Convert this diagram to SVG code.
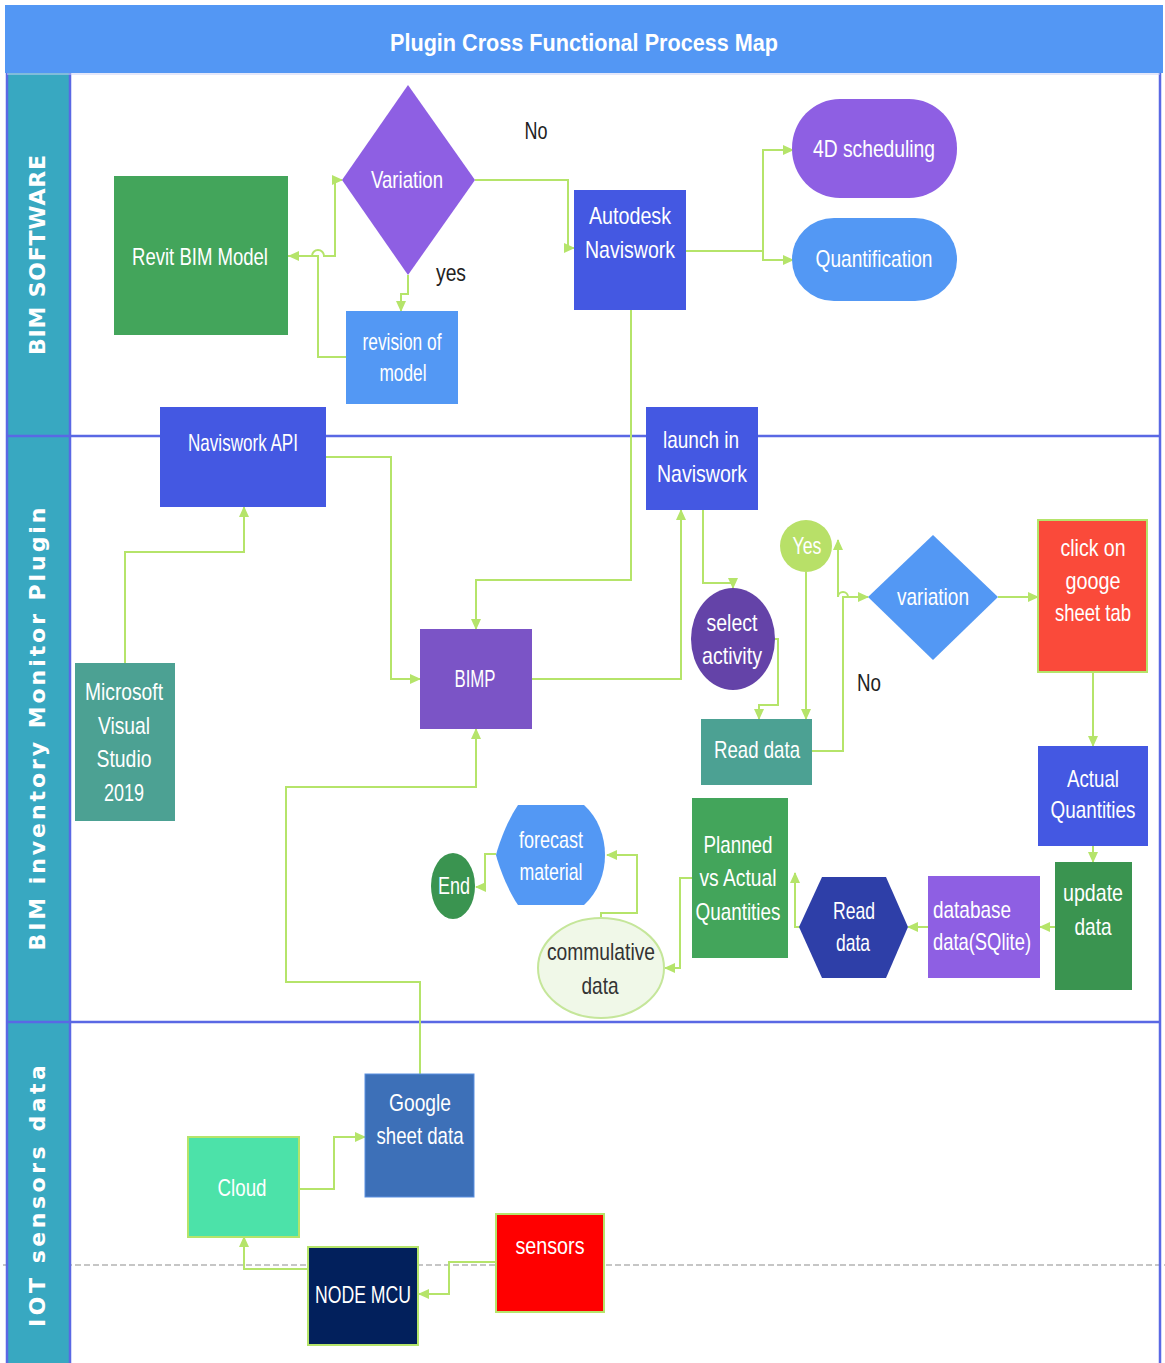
<svg xmlns="http://www.w3.org/2000/svg" width="1165" height="1363" viewBox="0 0 1165 1363">
<defs>
<marker id="ah" markerUnits="userSpaceOnUse" markerWidth="11" markerHeight="10" refX="10" refY="5" orient="auto">
<path d="M0,0 L11,5 L0,10 Z" fill="#b5e46a"/>
</marker>
<style>
.t{font-family:"Liberation Sans",Arial,sans-serif;font-size:24px;fill:#ffffff;text-anchor:middle}
.d{fill:#222222}
.lane{font-family:"DejaVu Sans","Liberation Sans",sans-serif;font-weight:bold;font-size:22px;fill:#ffffff;text-anchor:middle}
.c{fill:none;stroke:#b5e46a;stroke-width:2}
.a{marker-end:url(#ah)}
.lb{stroke:#5a68e4;stroke-width:2.5;fill:none}
</style>
</defs>
<rect width="1165" height="1363" fill="#ffffff"/>
<g id="title">
<rect x="5" y="5" width="1158" height="68" fill="#5397f4"/>
<text class="t" x="584" y="51" font-weight="bold" font-size="26" textLength="388" lengthAdjust="spacingAndGlyphs">Plugin Cross Functional Process Map</text>
</g>
<g id="lanes">
<line x1="3" y1="1265" x2="1165" y2="1265" stroke="#b4b4b4" stroke-width="1.5" stroke-dasharray="6,3"/>
<rect x="7" y="73" width="63" height="1292" fill="#38a8c1"/>
<line class="lb" x1="7" y1="73" x2="7" y2="1363"/>
<line class="lb" x1="70" y1="73" x2="70" y2="1363"/>
<line class="lb" x1="1160" y1="73" x2="1160" y2="1363"/>
<line class="lb" x1="7" y1="436" x2="1160" y2="436"/>
<line class="lb" x1="7" y1="1022" x2="1160" y2="1022"/>
<line x1="7" y1="74" x2="1160" y2="74" stroke="#c9d0f5" stroke-width="1"/>
<text class="lane" transform="translate(45,255) rotate(-90)" textLength="200" lengthAdjust="spacing">BIM SOFTWARE</text>
<text class="lane" transform="translate(45,729) rotate(-90)" textLength="443" lengthAdjust="spacing">BIM inventory Monitor Plugin</text>
<text class="lane" transform="translate(45,1196) rotate(-90)" textLength="262" lengthAdjust="spacing">IOT sensors data</text>
</g>
<g id="connectors">
<path class="c a" d="M288,256 H312 A6,6 0 0 1 324,256 H335 V180 H342"/>
<path class="c a" d="M346,357 H318 V256 H289"/>
<path class="c a" d="M408,275 V294 H401 V311"/>
<path class="c a" d="M475,180 H568 V248 H574"/>
<path class="c a" d="M686,251 H763 V150 H793"/>
<path class="c a" d="M763,251 V260 H793"/>
<path class="c a" d="M631,310 V580 H476 V629"/>
<path class="c a" d="M326,457 H391 V679 H420"/>
<path class="c a" d="M125,663 V552 H244 V507"/>
<path class="c a" d="M420,1074 V982 H286 V787 H476 V729"/>
<path class="c a" d="M532,679 H681 V510"/>
<path class="c a" d="M703,510 V583 H733 V588"/>
<path class="c a" d="M775,639 H778 V705 H759 V719"/>
<path class="c a" d="M806,572 V719"/>
<path class="c a" d="M812,751 H843 V597 H868"/>
<path class="c a" d="M868,597 H848 A5,5 0 0 0 838,597 V540"/>
<path class="c a" d="M998,597 H1038"/>
<path class="c a" d="M1093,672 V746"/>
<path class="c a" d="M1093,846 V862"/>
<path class="c a" d="M1055,927 H1040"/>
<path class="c a" d="M928,927 H908"/>
<path class="c a" d="M800,927 H795 V873"/>
<path class="c a" d="M692,878 H680 V968 H665"/>
<path class="c a" d="M601,918 V913 H637 V855 H607"/>
<path class="c a" d="M496,854 H485 V887 H476"/>
<path class="c a" d="M299,1189 H334 V1137 H365"/>
<path class="c a" d="M308,1269 H244 V1237"/>
<path class="c a" d="M496,1262 H449 V1294 H419"/>
</g>
<g id="revit">
<rect x="114" y="176" width="174" height="159" fill="#43a55b"/>
<text class="t" x="200" y="265" textLength="136" lengthAdjust="spacingAndGlyphs">Revit BIM Model</text>
</g>
<g id="variation1">
<polygon points="408,85 475,180 408,275 342,180" fill="#8e5fe3"/>
<text class="t" x="407" y="188" textLength="72" lengthAdjust="spacingAndGlyphs">Variation</text>
</g>
<g id="label-no1"><text class="t d" x="536" y="139" textLength="23" lengthAdjust="spacingAndGlyphs">No</text></g>
<g id="label-yes1"><text class="t d" x="451" y="281" textLength="30" lengthAdjust="spacingAndGlyphs">yes</text></g>
<g id="revision">
<rect x="346" y="311" width="112" height="93" fill="#5398f4"/>
<text class="t" x="402" y="350" textLength="79" lengthAdjust="spacingAndGlyphs">revision of</text>
<text class="t" x="403" y="381" textLength="47" lengthAdjust="spacingAndGlyphs">model</text>
</g>
<g id="autodesk">
<rect x="574" y="190" width="112" height="120" fill="#4458e2"/>
<text class="t" x="630" y="224" textLength="82" lengthAdjust="spacingAndGlyphs">Autodesk</text>
<text class="t" x="630" y="258" textLength="90" lengthAdjust="spacingAndGlyphs">Naviswork</text>
</g>
<g id="scheduling">
<rect x="792" y="99" width="165" height="99" rx="48" ry="49" fill="#8e5fe3"/>
<text class="t" x="874" y="157" textLength="122" lengthAdjust="spacingAndGlyphs">4D scheduling</text>
</g>
<g id="quantification">
<rect x="792" y="218" width="165" height="83" rx="42" ry="41" fill="#5398f4"/>
<text class="t" x="874" y="267" textLength="117" lengthAdjust="spacingAndGlyphs">Quantification</text>
</g>
<g id="navisapi">
<rect x="160" y="407" width="166" height="100" fill="#4458e2"/>
<text class="t" x="243" y="451" textLength="110" lengthAdjust="spacingAndGlyphs">Naviswork API</text>
</g>
<g id="launch">
<rect x="646" y="407" width="112" height="103" fill="#4458e2"/>
<text class="t" x="701" y="448" textLength="76" lengthAdjust="spacingAndGlyphs">launch in</text>
<text class="t" x="702" y="482" textLength="90" lengthAdjust="spacingAndGlyphs">Naviswork</text>
</g>
<g id="msvs">
<rect x="75" y="663" width="100" height="158" fill="#4ca193"/>
<text class="t" x="124" y="700" textLength="78" lengthAdjust="spacingAndGlyphs">Microsoft</text>
<text class="t" x="124" y="734" textLength="52" lengthAdjust="spacingAndGlyphs">Visual</text>
<text class="t" x="124" y="767" textLength="55" lengthAdjust="spacingAndGlyphs">Studio</text>
<text class="t" x="124" y="801" textLength="40" lengthAdjust="spacingAndGlyphs">2019</text>
</g>
<g id="bimp">
<rect x="420" y="629" width="112" height="100" fill="#7b54c6"/>
<text class="t" x="475" y="687" textLength="41" lengthAdjust="spacingAndGlyphs">BIMP</text>
</g>
<g id="select">
<ellipse cx="733" cy="639" rx="42" ry="51" fill="#6443a8"/>
<text class="t" x="732" y="631" textLength="51" lengthAdjust="spacingAndGlyphs">select</text>
<text class="t" x="732" y="664" textLength="60" lengthAdjust="spacingAndGlyphs">activity</text>
</g>
<g id="yes2">
<circle cx="806" cy="546" r="26" fill="#b8e068"/>
<text class="t" x="807" y="554" textLength="29" lengthAdjust="spacingAndGlyphs">Yes</text>
</g>
<g id="variation2">
<polygon points="933,535 998,597 933,660 868,597" fill="#5398f4"/>
<text class="t" x="933" y="605" textLength="72" lengthAdjust="spacingAndGlyphs">variation</text>
</g>
<g id="click">
<rect x="1038" y="520" width="109" height="152" fill="#fa4a3a" stroke="#b5e46a" stroke-width="2"/>
<text class="t" x="1093" y="556" textLength="65" lengthAdjust="spacingAndGlyphs">click on</text>
<text class="t" x="1093" y="589" textLength="55" lengthAdjust="spacingAndGlyphs">googe</text>
<text class="t" x="1093" y="621" textLength="76" lengthAdjust="spacingAndGlyphs">sheet tab</text>
</g>
<g id="label-no2"><text class="t d" x="869" y="691" textLength="24" lengthAdjust="spacingAndGlyphs">No</text></g>
<g id="readdata1">
<rect x="701" y="719" width="111" height="66" fill="#4ca193"/>
<text class="t" x="757" y="758" textLength="86" lengthAdjust="spacingAndGlyphs">Read data</text>
</g>
<g id="actual">
<rect x="1038" y="746" width="110" height="100" fill="#4458e2"/>
<text class="t" x="1093" y="787" textLength="52" lengthAdjust="spacingAndGlyphs">Actual</text>
<text class="t" x="1093" y="818" textLength="85" lengthAdjust="spacingAndGlyphs">Quantities</text>
</g>
<g id="update">
<rect x="1055" y="862" width="77" height="128" fill="#3a9450"/>
<text class="t" x="1093" y="901" textLength="60" lengthAdjust="spacingAndGlyphs">update</text>
<text class="t" x="1093" y="935" textLength="37" lengthAdjust="spacingAndGlyphs">data</text>
</g>
<g id="database">
<rect x="928" y="876" width="112" height="102" fill="#8e5fe3"/>
<text class="t" x="972" y="918" textLength="78" lengthAdjust="spacingAndGlyphs">database</text>
<text class="t" x="982" y="950" textLength="98" lengthAdjust="spacingAndGlyphs">data(SQlite)</text>
</g>
<g id="readdata2">
<polygon points="799,927 822,877 886,877 908,927 886,978 822,978" fill="#2e3fa8"/>
<text class="t" x="854" y="919" textLength="42" lengthAdjust="spacingAndGlyphs">Read</text>
<text class="t" x="853" y="951" textLength="34" lengthAdjust="spacingAndGlyphs">data</text>
</g>
<g id="planned">
<rect x="692" y="798" width="96" height="160" fill="#43a55b"/>
<text class="t" x="738" y="853" textLength="69" lengthAdjust="spacingAndGlyphs">Planned</text>
<text class="t" x="738" y="886" textLength="77" lengthAdjust="spacingAndGlyphs">vs Actual</text>
<text class="t" x="738" y="920" textLength="85" lengthAdjust="spacingAndGlyphs">Quantities</text>
</g>
<g id="forecast">
<path d="M518,805 H584 C612,830 612,880 584,905 H518 C508,890 500,870 496,855 C500,840 508,820 518,805 Z" fill="#5398f4"/>
<text class="t" x="551" y="848" textLength="64" lengthAdjust="spacingAndGlyphs">forecast</text>
<text class="t" x="551" y="880" textLength="63" lengthAdjust="spacingAndGlyphs">material</text>
</g>
<g id="end">
<ellipse cx="453" cy="886" rx="22" ry="33" fill="#3a9450"/>
<text class="t" x="454" y="894" textLength="32" lengthAdjust="spacingAndGlyphs">End</text>
</g>
<g id="commulative">
<ellipse cx="601" cy="968" rx="63" ry="50" fill="#f0f8e8" stroke="#c5e69a" stroke-width="2"/>
<text class="t" x="601" y="960" style="fill:#333333" textLength="108" lengthAdjust="spacingAndGlyphs">commulative</text>
<text class="t" x="600" y="994" style="fill:#333333" textLength="37" lengthAdjust="spacingAndGlyphs">data</text>
</g>
<g id="google">
<rect x="365" y="1074" width="109" height="123" fill="#3d70b8" stroke="#5a8fe0" stroke-width="1"/>
<text class="t" x="420" y="1111" textLength="62" lengthAdjust="spacingAndGlyphs">Google</text>
<text class="t" x="420" y="1144" textLength="87" lengthAdjust="spacingAndGlyphs">sheet data</text>
</g>
<g id="cloud">
<rect x="188" y="1137" width="111" height="100" fill="#4ce2a9" stroke="#b5e46a" stroke-width="2"/>
<text class="t" x="242" y="1196" textLength="49" lengthAdjust="spacingAndGlyphs">Cloud</text>
</g>
<g id="nodemcu">
<rect x="308" y="1247" width="110" height="98" fill="#02205c" stroke="#b5e46a" stroke-width="2"/>
<text class="t" x="363" y="1303" textLength="96" lengthAdjust="spacingAndGlyphs">NODE MCU</text>
</g>
<g id="sensors">
<rect x="496" y="1214" width="108" height="98" fill="#ff0000" stroke="#b5e46a" stroke-width="2"/>
<text class="t" x="550" y="1254" textLength="69" lengthAdjust="spacingAndGlyphs">sensors</text>
</g>
</svg>
